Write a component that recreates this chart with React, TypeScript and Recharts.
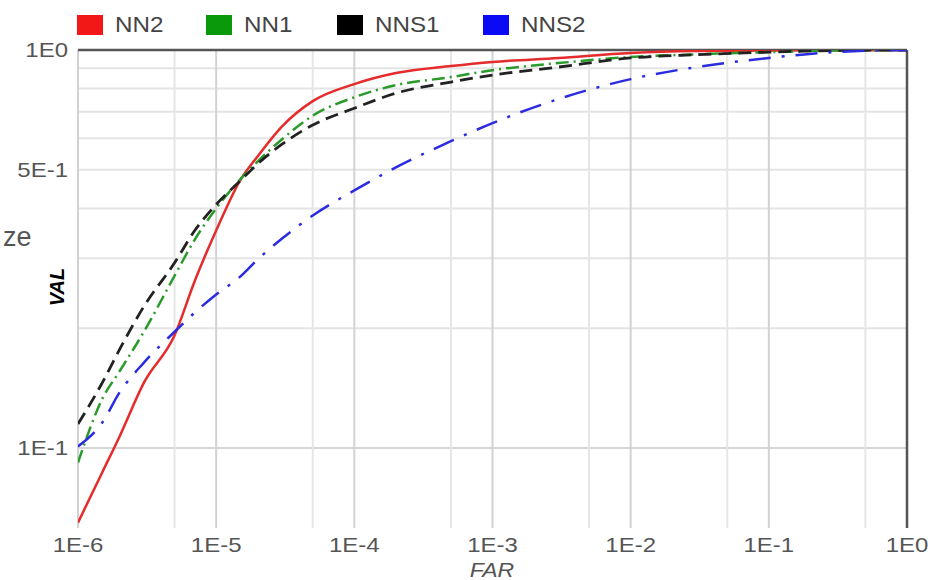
import React from "react";
import { LineChart, Line, XAxis, YAxis, ReferenceLine } from "recharts";

const far = [
  1e-6, 1.5e-6, 2e-6, 3e-6, 5e-6, 7e-6, 1e-5, 1.5e-5, 2e-5, 3e-5, 5e-5, 1e-4,
  2e-4, 5e-4, 1e-3, 3e-3, 1e-2, 3e-2, 1e-1, 3e-1, 1,
];
const nn2 = [
  0.065, 0.087, 0.107, 0.146, 0.192, 0.263, 0.352, 0.472, 0.541, 0.643, 0.744,
  0.821, 0.875, 0.911, 0.933, 0.955, 0.983, 0.994, 0.997, 0.999, 1,
];
const nn1 = [
  0.092, 0.133, 0.156, 0.196, 0.271, 0.334, 0.4, 0.474, 0.525, 0.597, 0.684,
  0.761, 0.816, 0.855, 0.89, 0.927, 0.96, 0.975, 0.988, 0.997, 1,
];
const nns1 = [
  0.115, 0.146, 0.177, 0.227, 0.292, 0.352, 0.409, 0.47, 0.518, 0.58, 0.648,
  0.714, 0.779, 0.831, 0.865, 0.906, 0.955, 0.973, 0.988, 0.997, 1,
];
const nns2 = [
  0.101, 0.116, 0.138, 0.164, 0.196, 0.219, 0.243, 0.27, 0.298, 0.336, 0.384,
  0.444, 0.507, 0.59, 0.655, 0.753, 0.845, 0.906, 0.955, 0.988, 1,
];

const xTicks = [1e-6, 1e-5, 1e-4, 1e-3, 1e-2, 1e-1, 1];
const xTickLabels = ["1E-6", "1E-5", "1E-4", "1E-3", "1E-2", "1E-1", "1E0"];
const xMinor = [5e-6, 5e-5, 5e-4, 5e-3, 5e-2, 5e-1];
const yTicks = [0.1, 0.5, 1];
const yTickLabels = ["1E-1", "5E-1", "1E0"];
const yGrid = [0.2, 0.3, 0.4, 0.5, 0.6, 0.7, 0.8, 0.9];

const series = [
  { key: "NN2", values: nn2, color: "#e52b2b", box: "#f21818", dash: undefined, width: 2.5 },
  { key: "NN1", values: nn1, color: "#2a9a2a", box: "#0a990a", dash: "13 5 2 5", width: 2.5 },
  { key: "NNS1", values: nns1, color: "#222222", box: "#000000", dash: "13 7", width: 2.8 },
  { key: "NNS2", values: nns2, color: "#2b2be0", box: "#0a0af5", dash: "22 11 3 11", width: 2.5 },
];

const data = far.map((f, i) => {
  const row: Record<string, number> = { far: f };
  series.forEach((s) => (row[s.key] = s.values[i]));
  return row;
});

const font = "'Liberation Sans', Arial, sans-serif";

const XTick = (props: any) => {
  const { x, y, payload } = props;
  const i = xTicks.indexOf(payload.value);
  return (
    <text
      transform={`translate(${x},${y}) scale(1.2,1)`}
      dy={16}
      textAnchor="middle"
      fill="#555"
      fontSize={20}
      fontFamily={font}
    >
      {i >= 0 ? xTickLabels[i] : ""}
    </text>
  );
};

const YTick = (props: any) => {
  const { x, y, payload } = props;
  const i = yTicks.indexOf(payload.value);
  return (
    <text
      transform={`translate(${x - 2},${y}) scale(1.2,1)`}
      dy={7}
      textAnchor="end"
      fill="#555"
      fontSize={20}
      fontFamily={font}
    >
      {i >= 0 ? yTickLabels[i] : ""}
    </text>
  );
};

const legendX = [77, 206, 337, 483];

export default function App() {
  return (
    <div
      style={{
        position: "absolute",
        left: 0,
        top: 0,
        width: 932,
        height: 580,
        background: "#fff",
        fontFamily: font,
      }}
    >
      <LineChart
        width={932}
        height={580}
        data={data}
        margin={{ top: 50, right: 25, bottom: 0, left: 0 }}
      >
        <XAxis
          dataKey="far"
          type="number"
          scale="log"
          domain={[1e-6, 1]}
          ticks={xTicks}
          allowDataOverflow
          axisLine={false}
          tickLine={false}
          height={52}
          tick={<XTick />}
          interval={0}
        />
        <YAxis
          type="number"
          scale="log"
          domain={[0.063, 1]}
          ticks={yTicks}
          allowDataOverflow
          axisLine={false}
          tickLine={false}
          width={78}
          tick={<YTick />}
          interval={0}
        />
        {yGrid.map((v) => (
          <ReferenceLine key={"h" + v} y={v} stroke="#e4e4e4" strokeWidth={2} />
        ))}
        <ReferenceLine y={0.1} stroke="#d6d6d6" strokeWidth={2} />
        {xMinor.map((v) => (
          <ReferenceLine key={"m" + v} x={v} stroke="#e6e6e6" strokeWidth={2} />
        ))}
        {xTicks.slice(0, -1).map((v) => (
          <ReferenceLine key={"v" + v} x={v} stroke="#d2d2d2" strokeWidth={2} />
        ))}
        <ReferenceLine y={1} stroke="#555" strokeWidth={2.5} />
        <ReferenceLine x={1} stroke="#555" strokeWidth={2.5} />
        {series.map((s) => (
          <Line
            key={s.key}
            dataKey={s.key}
            type="monotone"
            stroke={s.color}
            strokeWidth={s.width}
            strokeDasharray={s.dash}
            dot={false}
            activeDot={false}
            isAnimationActive={false}
          />
        ))}
      </LineChart>

      {series.map((s, i) => (
        <div key={s.key}>
          <div
            style={{
              position: "absolute",
              left: legendX[i],
              top: 15,
              width: 26,
              height: 20,
              background: s.box,
            }}
          />
          <div
            style={{
              position: "absolute",
              left: legendX[i] + 38,
              top: 14,
              fontSize: 22,
              lineHeight: 1,
              color: "#444",
              transform: "scaleX(1.1)",
              transformOrigin: "left center",
              whiteSpace: "nowrap",
            }}
          >
            {s.key}
          </div>
        </div>
      ))}

      <div
        style={{
          position: "absolute",
          left: 3,
          top: 224,
          fontSize: 27,
          lineHeight: 1,
          color: "#555",
        }}
      >
        ze
      </div>
      <div
        style={{
          position: "absolute",
          left: 27,
          top: 275,
          width: 60,
          height: 24,
          lineHeight: "24px",
          textAlign: "center",
          fontSize: 20,
          fontWeight: "bold",
          fontStyle: "italic",
          color: "#000",
          transform: "rotate(-90deg)",
        }}
      >
        VAL
      </div>
      <div
        style={{
          position: "absolute",
          left: 452,
          top: 560,
          width: 80,
          textAlign: "center",
          fontSize: 20,
          lineHeight: 1,
          fontStyle: "italic",
          color: "#555",
          transform: "scaleX(1.15)",
        }}
      >
        FAR
      </div>
    </div>
  );
}
